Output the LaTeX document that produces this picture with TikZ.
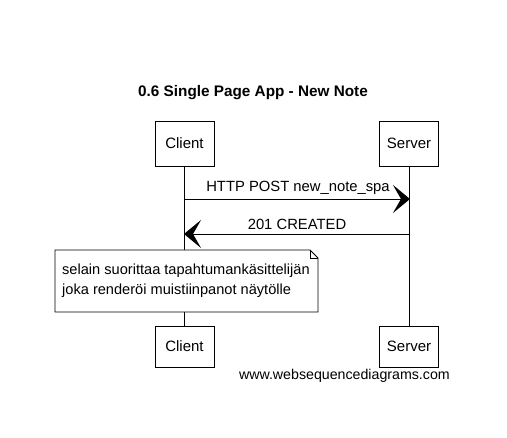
\documentclass[tikz,border=0pt]{standalone}
\usepackage{fontspec}
\setmainfont{Liberation Sans}
\usetikzlibrary{arrows.meta}
\begin{document}
\begin{tikzpicture}[x=1pt,y=-1pt,
  actor/.style={draw,line width=0.8pt,minimum width=59pt,minimum height=45pt,inner sep=0pt,font=\fontsize{15}{17}\selectfont},
  lifeline/.style={line width=0.8pt},
  msg/.style={line width=0.9pt,-{Stealth[length=17pt,width=28pt,inset=8pt]}},
  lbl/.style={font=\fontsize{14.8}{17}\selectfont,inner sep=0pt},
  notetext/.style={font=\fontsize{14.6}{20}\selectfont,inner sep=0pt,anchor=west,align=left}]
\useasboundingbox (0,0) rectangle (507,438);
\node[font=\bfseries\fontsize{15.3}{17}\selectfont] (title) at (253,93) {0.6 Single Page App - New Note};
\node[actor] (c1) at (184.5,143.5) {Client};
\node[actor] (s1) at (409,143.5) {Server};
\node[actor,minimum height=41pt] (c2) at (184.5,346.5) {Client};
\node[actor,minimum height=41pt] (s2) at (409,346.5) {Server};
\draw[lifeline] (c1.south) -- (c2.north);
\draw[lifeline] (s1.south) -- (s2.north);
\coordinate (a1s) at (184,199);
\coordinate (a1e) at (410,199);
\coordinate (a2s) at (410,234);
\coordinate (a2e) at (184,234);
\draw[msg] (a1s) -- (a1e);
\draw[msg] (a2s) -- (a2e);
\node[lbl] (l1) at (298,188) {HTTP POST new\_note\_spa};
\node[lbl] (l2) at (297,224) {201 CREATED};
\draw[line width=0.8pt,fill=white] (55,250) -- (310,250) -- (318,258) -- (318,312) -- (55,312) -- cycle;
\draw[line width=0.6pt] (310,250) -- (310,258) -- (318,258);
\node[notetext] (note) at (62,281)
  {selain suorittaa tapahtumankäsittelijän\\joka renderöi muistiinpanot näytölle};
\node[lbl,anchor=east,font=\fontsize{14.2}{16}\selectfont] (foot) at (450,376) {www.websequencediagrams.com};
\end{tikzpicture}
\end{document}
